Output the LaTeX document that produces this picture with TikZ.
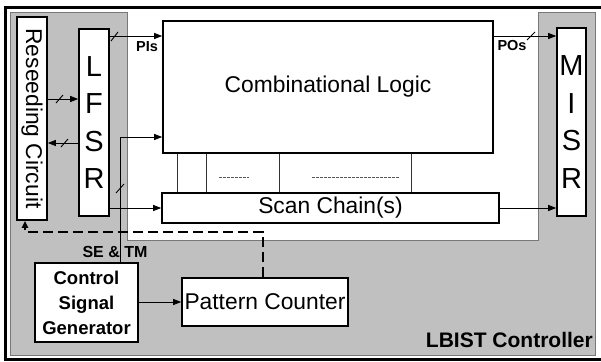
\documentclass[tikz,border=0pt]{standalone}
\usepackage{fontspec}
\setmainfont{Liberation Sans}
\usetikzlibrary{arrows.meta}
\definecolor{panel}{RGB}{192,192,192}
\definecolor{panelline}{RGB}{120,120,120}
\tikzset{
  box/.style={draw=black, fill=white, line width=1.6pt, inner sep=0pt},
  arr/.style={-{Triangle[length=8pt,width=6pt]}, line width=0.9pt},
  slash/.style={line width=0.9pt},
  bigtxt/.style={font=\fontsize{22.8}{27}\selectfont},
  lettertxt/.style={font=\fontsize{29}{37.5}\selectfont, align=center},
  boldtxt/.style={font=\bfseries\fontsize{18.5}{25}\selectfont, align=center},
  lbl/.style={font=\bfseries\fontsize{14.5}{16}\selectfont, inner sep=0pt},
}
\begin{document}
\begin{tikzpicture}[x=1pt,y=-1pt]
\useasboundingbox (0,0) rectangle (601,361);
% gray panel with white notch
\fill[panel] (10,13) -- (127,13) -- (127,240) -- (538,240) -- (538,13) -- (595.5,13) -- (595.5,355) -- (10,355) -- cycle;
\draw[panelline, line width=1pt] (10,13) -- (127,13) -- (127,240) -- (538,240) -- (538,13) -- (595.5,13) -- (595.5,355) -- (10,355) -- cycle;
% outer black frame
\draw[black, line width=3.5pt] (602,7.5) -- (5.5,7.5) -- (5.5,359.5) -- (602,359.5);

% boxes
\node[box, minimum width=30pt, minimum height=203pt] (reseed) at (32,118.5) {};
\node[bigtxt, rotate=-90] at (reseed.center) {Reseeding Circuit};
\node[box, lettertxt, minimum width=30pt, minimum height=187pt] (lfsr) at (94,122.5) {L\\F\\S\\R};
\node[box, bigtxt, minimum width=330pt, minimum height=132pt] (cl) at (328,87) {Combinational Logic};
\node[box, bigtxt, minimum width=337pt, minimum height=30pt] (scan) at (330.5,208) {Scan Chain(s)};
\node[box, lettertxt, minimum width=29pt, minimum height=188pt] (misr) at (571.5,122) {M\\I\\S\\R};
\node[box, boldtxt, minimum width=103pt, minimum height=79pt] (csg) at (86.5,302.5) {Control\\Signal\\Generator};
\node[box, bigtxt, minimum width=166pt, minimum height=48pt] (pc) at (265,302) {Pattern Counter};

% scan cell separators
\foreach \xx in {177,206,279,411} {
  \draw[line width=0.7pt, black!80] (cl.south -| \xx,0) -- (scan.north -| \xx,0);
}
\draw[black!65, line width=1pt, dash pattern=on 2.5pt off 1.5pt] (219,177) -- (249,177);
\draw[black!65, line width=1pt, dash pattern=on 2.5pt off 1.5pt] (312,177) -- (400,177);

% connectors
\draw[arr] (lfsr.east |- 0,36) -- (cl.west |- 0,36);
\draw[slash] (111,41) -- (118,32);
\node[lbl] (pis) at (147,47) {PIs};

\draw[arr] (cl.east |- 0,36) -- (misr.west |- 0,36);
\draw[slash] (527,40) -- (535,32);
\node[lbl] (pos) at (512,46) {POs};

\draw[arr] (reseed.east |- 0,99) -- (lfsr.west |- 0,99);
\draw[slash] (56,103) -- (63,95);
\draw[arr] (lfsr.west |- 0,143) -- (reseed.east |- 0,143);
\draw[slash] (61,147) -- (68,139);

\draw[arr] (lfsr.east |- 0,208) -- (scan.west |- 0,208);
\draw[arr] (csg.north -| 120,0) |- (cl.west |- 0,137);
\draw[slash] (116,193) -- (124,184);
\node[lbl, font=\bfseries\fontsize{16}{18}\selectfont] (setm) at (115,252) {SE \& TM};

\draw[arr] (scan.east) -- (misr.west |- scan.east);
\draw[arr] (csg.east |- 0,302) -- (pc.west |- 0,302);

\draw[line width=1.8pt, dash pattern=on 10pt off 5pt, -{Triangle[length=7pt,width=6pt]}]
  (pc.north -| 263,0) -- (263,232) -- (25,232) -- (reseed.south -| 25,0);

\node[anchor=base east, inner sep=0pt, font=\bfseries\fontsize{21}{24}\selectfont] (lbist) at (593,347) {LBIST Controller};
\end{tikzpicture}
\end{document}
